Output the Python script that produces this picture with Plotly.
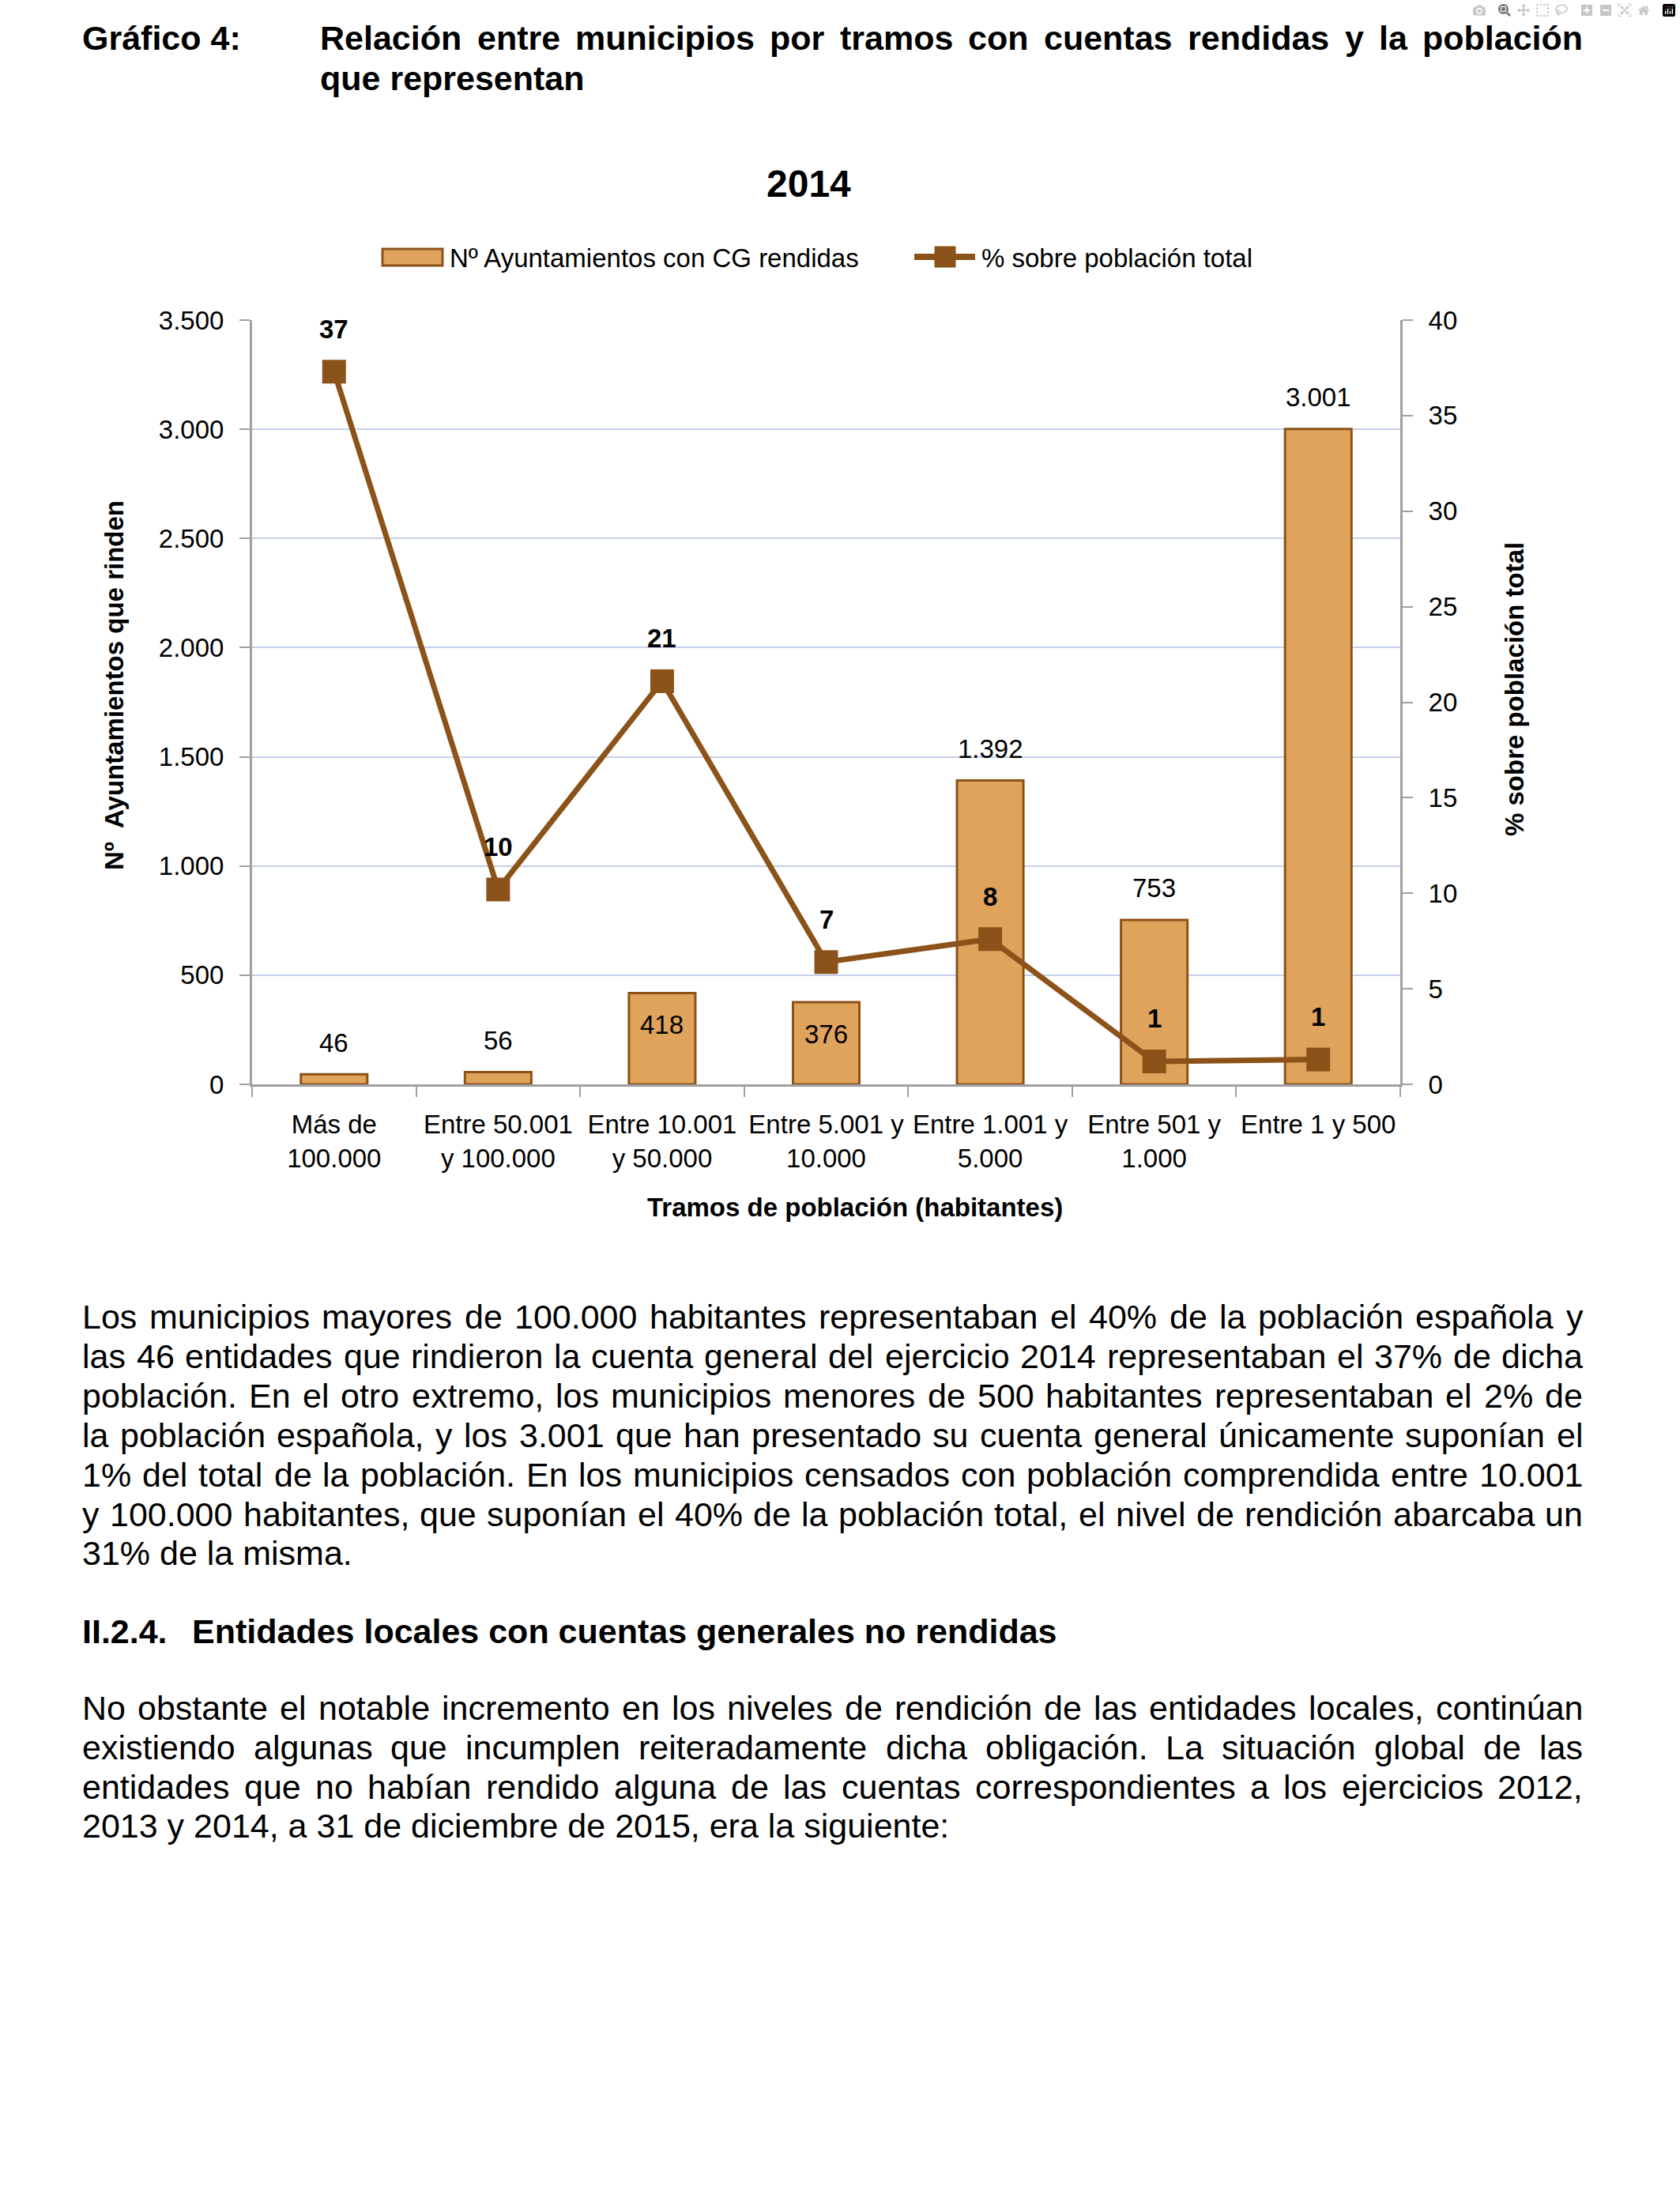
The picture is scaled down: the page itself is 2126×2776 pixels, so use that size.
import plotly.graph_objects as go

# ---------------- data ----------------
categories = ["Más de<br>100.000", "Entre 50.001<br>y 100.000", "Entre 10.001<br>y 50.000",
              "Entre 5.001 y<br>10.000", "Entre 1.001 y<br>5.000", "Entre 501 y<br>1.000", "Entre 1 y 500"]
ayuntamientos = [46, 56, 418, 376, 1392, 753, 3001]
pct_poblacion = [37.3, 10.2, 21.1, 6.4, 7.6, 1.2, 1.3]
pct_labels = ["37", "10", "21", "7", "8", "1", "1"]
bar_label_side = ["out", "out", "in", "in", "out", "out", "out"]

title_label = "Gráfico 4:"
title_lines = ["Relación entre municipios por tramos con cuentas rendidas y la población", "que representan"]
chart_title = "2014"
series_names = ["Nº Ayuntamientos con CG rendidas", "% sobre población total"]
y1_title = "Nº  Ayuntamientos que rinden"
y2_title = "% sobre población total"
x_title = "Tramos de población (habitantes)"

para1 = [
    "Los municipios mayores de 100.000 habitantes representaban el 40% de la población española y",
    "las 46 entidades que rindieron la cuenta general del ejercicio 2014 representaban el 37% de dicha",
    "población. En el otro extremo, los municipios menores de 500 habitantes representaban el 2% de",
    "la población española, y los 3.001 que han presentado su cuenta general únicamente suponían el",
    "1% del total de la población. En los municipios censados con población comprendida entre 10.001",
    "y 100.000 habitantes, que suponían el 40% de la población total, el nivel de rendición abarcaba un",
    "31% de la misma.",
]
heading_num = "II.2.4."
heading_text = "Entidades locales con cuentas generales no rendidas"
para2 = [
    "No obstante el notable incremento en los niveles de rendición de las entidades locales, continúan",
    "existiendo algunas que incumplen reiteradamente dicha obligación. La situación global de las",
    "entidades que no habían rendido alguna de las cuentas correspondientes a los ejercicios 2012,",
    "2013 y 2014, a 31 de diciembre de 2015, era la siguiente:",
]

# ---------------- styles ----------------
W, H = 2126, 2776
BAR_FILL = "#E0A35C"
BROWN = "#8B5219"
AXIS_GREY = "#A0A0A0"
GRID = "#C6CEEE"
FONT = "Liberation Sans, Arial"
CH = 33          # chart font size
TX = 43          # body text font size


def px(x):
    return x / W


def py(y):
    return 1 - y / H


REG = {' ': 278, '%': 889, ',': 278, '.': 278, ':': 278, '(': 333, ')': 333,
       'A': 667, 'B': 667, 'C': 722, 'D': 722, 'E': 667, 'F': 611, 'G': 778, 'H': 722, 'I': 278, 'J': 500,
       'K': 667, 'L': 556, 'M': 833, 'N': 722, 'O': 778, 'P': 667, 'Q': 778, 'R': 722, 'S': 667, 'T': 611,
       'U': 722, 'V': 667, 'W': 944, 'X': 667, 'Y': 667, 'Z': 611,
       'a': 556, 'b': 556, 'c': 500, 'd': 556, 'e': 556, 'f': 278, 'g': 556, 'h': 556, 'i': 222, 'j': 222,
       'k': 500, 'l': 222, 'm': 833, 'n': 556, 'o': 556, 'p': 556, 'q': 556, 'r': 333, 's': 500, 't': 278,
       'u': 556, 'v': 500, 'w': 722, 'x': 500, 'y': 500, 'z': 500,
       'á': 556, 'é': 556, 'í': 278, 'ó': 556, 'ú': 556, 'ñ': 556}
BOLD = {' ': 278, '%': 889, ',': 278, '.': 278, ':': 333, '(': 333, ')': 333,
        'A': 722, 'B': 722, 'C': 722, 'D': 722, 'E': 667, 'F': 611, 'G': 778, 'H': 722, 'I': 278, 'J': 556,
        'K': 722, 'L': 611, 'M': 833, 'N': 722, 'O': 778, 'P': 667, 'Q': 778, 'R': 722, 'S': 667, 'T': 611,
        'U': 722, 'V': 667, 'W': 944, 'X': 667, 'Y': 667, 'Z': 611,
        'a': 556, 'b': 611, 'c': 556, 'd': 611, 'e': 556, 'f': 333, 'g': 611, 'h': 611, 'i': 278, 'j': 278,
        'k': 556, 'l': 278, 'm': 889, 'n': 611, 'o': 611, 'p': 611, 'q': 611, 'r': 389, 's': 556, 't': 333,
        'u': 611, 'v': 556, 'w': 778, 'x': 556, 'y': 556, 'z': 500,
        'á': 556, 'é': 556, 'í': 278, 'ó': 611, 'ú': 611, 'ñ': 611}
for d in "0123456789":
    REG[d] = 556
    BOLD[d] = 556


def text_width(s, size, bold=False):
    table = BOLD if bold else REG
    return sum(table.get(c, 556) for c in s) * size / 1000.0


annotations = []


def add_text(text, x, y, size, bold=False, anchor="left", angle=0):
    annotations.append(dict(
        text=f"<b>{text}</b>" if bold else text, x=px(x), y=py(y), xref="paper", yref="paper",
        xanchor=anchor, yanchor="middle", showarrow=False, textangle=angle, borderpad=0,
        font=dict(family=FONT, size=size, color="black")))


def justify(line, y, x0, x1, size, bold=False):
    words = line.split(" ")
    widths = [text_width(w, size, bold) for w in words]
    gap = (x1 - x0 - sum(widths)) / (len(words) - 1)
    x = x0
    for w, wd in zip(words, widths):
        add_text(w, x, y, size, bold)
        x += wd + gap


LEFT, RIGHT = 103, 2002

# page title
add_text(title_label, LEFT, 48, TX, bold=True)
justify(title_lines[0], 48, 404, RIGHT, TX, bold=True)
add_text(title_lines[1], 404, 99, TX, bold=True)

# body paragraphs
p1_y = [1666, 1716, 1766, 1816, 1866, 1916, 1965]
for i, (line, y) in enumerate(zip(para1, p1_y)):
    if i < len(para1) - 1:
        justify(line, y, LEFT, RIGHT, TX)
    else:
        add_text(line, LEFT, y, TX)
add_text(heading_num, LEFT, 2064, TX, bold=True)
add_text(heading_text, 242, 2064, TX, bold=True)
p2_y = [2161, 2211, 2261, 2310]
for i, (line, y) in enumerate(zip(para2, p2_y)):
    if i < len(para2) - 1:
        justify(line, y, LEFT, RIGHT, TX)
    else:
        add_text(line, LEFT, y, TX)

# chart title and axis titles
add_text(chart_title, 1023, 232, 48, bold=True, anchor="center")
add_text(y1_title, 145, 867, CH, bold=True, anchor="center", angle=-90)
add_text(y2_title, 1917, 872, CH, bold=True, anchor="center", angle=-90)
add_text(x_title, 1082, 1527, CH, bold=True, anchor="center")

# custom legend
shapes = [
    dict(type="rect", xref="paper", yref="paper", x0=px(484), x1=px(560), y0=py(336), y1=py(315),
         fillcolor=BAR_FILL, line=dict(color=BROWN, width=3)),
    dict(type="line", xref="paper", yref="paper", x0=px(1157), x1=px(1234), y0=py(325), y1=py(325),
         line=dict(color=BROWN, width=8)),
    dict(type="rect", xref="paper", yref="paper", x0=px(1183), x1=px(1209), y0=py(338), y1=py(312),
         fillcolor=BROWN, line=dict(color=BROWN, width=1)),
]
add_text(series_names[0], 568, 326, CH)
add_text(series_names[1], 1241, 326, CH)

# data labels
for cat, v, side in zip(categories, ayuntamientos, bar_label_side):
    annotations.append(dict(
        x=cat, y=v, xref="x", yref="y", text=f"{v:,}".replace(",", "."), showarrow=False,
        yanchor="middle", yshift=40 if side == "out" else -40,
        font=dict(family=FONT, size=CH, color="black")))
for cat, v, lab in zip(categories, pct_poblacion, pct_labels):
    annotations.append(dict(
        x=cat, y=v, xref="x", yref="y2", text=f"<b>{lab}</b>", showarrow=False,
        yanchor="middle", yshift=54, font=dict(family=FONT, size=CH, color="black")))

fig = go.Figure()
fig.add_trace(go.Bar(
    x=categories, y=ayuntamientos, name=series_names[0],
    marker=dict(color=BAR_FILL, line=dict(color=BROWN, width=3)), yaxis="y"))
fig.add_trace(go.Scatter(
    x=categories, y=pct_poblacion, name=series_names[1], mode="lines+markers", yaxis="y2",
    line=dict(color=BROWN, width=7), marker=dict(symbol="square", size=30, color=BROWN),
    cliponaxis=False))

tickfont = dict(family=FONT, size=CH, color="black")
fig.update_layout(
    width=W, height=H, margin=dict(l=0, r=0, t=0, b=0, pad=0, autoexpand=False),
    paper_bgcolor="white", plot_bgcolor="white",
    showlegend=False, separators=",.", bargap=0.595,
    font=dict(family=FONT, size=CH, color="black"),
    xaxis=dict(domain=[px(319), px(1772)], showline=True, linecolor=AXIS_GREY, linewidth=3,
               ticks="outside", tickson="boundaries", ticklen=13, tickwidth=2, tickcolor=AXIS_GREY,
               ticklabelstandoff=19, tickfont=tickfont, tickangle=0, automargin=False,
               showgrid=False, zeroline=False),
    yaxis=dict(domain=[py(1372), py(405)], range=[0, 3500], dtick=500, tickformat=",d",
               showline=True, linecolor=AXIS_GREY, linewidth=3, ticks="outside", ticklen=13,
               tickwidth=2, tickcolor=AXIS_GREY, showgrid=True, gridcolor=GRID, gridwidth=2,
               zeroline=False, ticklabelstandoff=13, automargin=False, tickfont=tickfont),
    yaxis2=dict(overlaying="y", side="right", anchor="x", range=[0, 40], dtick=5,
                showline=True, linecolor=AXIS_GREY, linewidth=3, ticks="outside", ticklen=13,
                tickwidth=2, tickcolor=AXIS_GREY, showgrid=False, zeroline=False,
                ticklabelstandoff=13, automargin=False, tickfont=tickfont),
    annotations=annotations, shapes=shapes,
)

fig.write_html("out.html", post_script="document.body.style.margin='0';document.body.style.overflow='hidden';")
